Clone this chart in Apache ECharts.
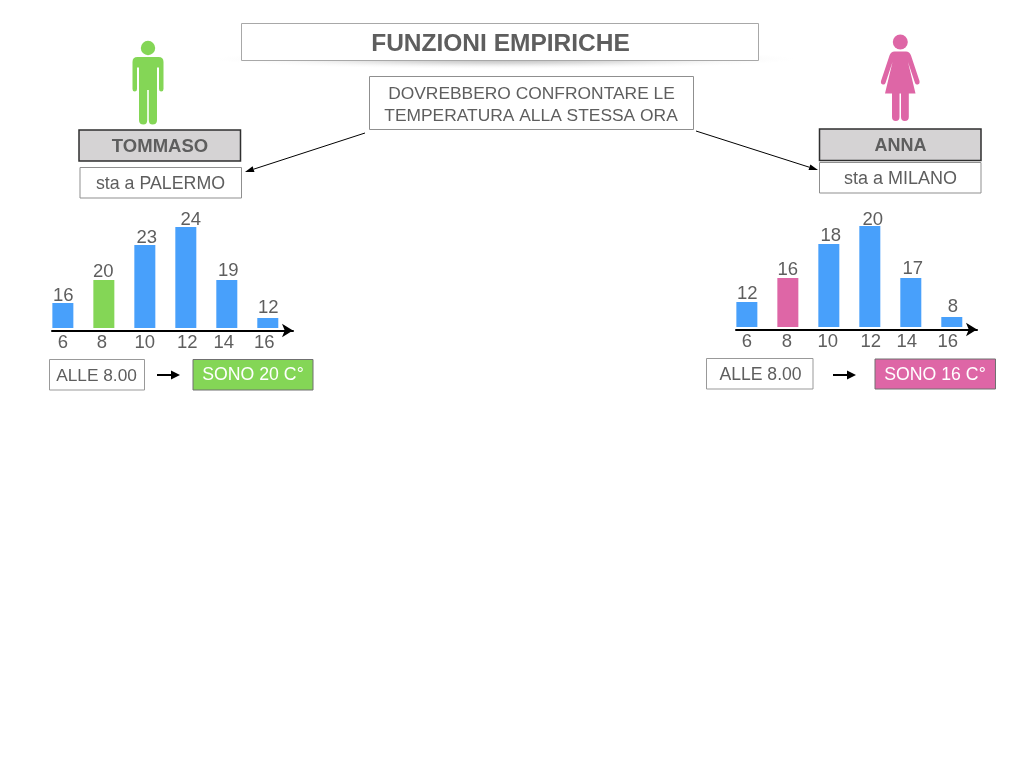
<!DOCTYPE html>
<html>
<head>
<meta charset="utf-8">
<style>html,body{margin:0;padding:0;background:#fff}#c{width:1024px;height:768px}</style>
<script src="https://cdn.jsdelivr.net/npm/echarts@6/dist/echarts.min.js"></script>
</head>
<body>
<div id="c"></div>
<script>
// Data
const hours = [6, 8, 10, 12, 14, 16];
const tommasoTemps = [16, 20, 23, 24, 19, 12];
const annaTemps = [12, 16, 18, 20, 17, 8];
// The drawn bars are not proportional to their printed temperatures: these are the drawn heights.
const tommasoBarHeights = [25, 48, 83, 101, 48, 10];
const annaBarHeights = [25, 49, 83, 101, 49, 10];

const TEXT = '#5e5e5e', BLUE = '#48a0fb', GREEN = '#84d656', PINK = '#de66a6';
const FONT = '"Liberation Sans", Arial, sans-serif';

const manPath = 'M137.5 57 H158.5 Q163.5 57 163.5 62 V89 Q163.5 91.5 161.2 91.5 Q159 91.5 159 89 V67.5 H157 V120 Q157 124.5 152.5 124.5 Q148.8 124.5 148.8 120 V90 H147.2 V120 Q147.2 124.5 143.5 124.5 Q139 124.5 139 120 V67.5 H137 V89 Q137 91.5 134.8 91.5 Q132.5 91.5 132.5 89 V62 Q132.5 57 137.5 57 Z';
const womanPath = 'M894.5 51.5 H906 Q909.5 51.5 911 55.5 L919.5 81 Q920 84 917.8 84.5 Q915.8 85 915 83 L908 62 L915.5 93.5 H908.8 V117 Q908.8 121 904.8 121 Q901 121 901 117 V93.5 H899.5 V117 Q899.5 121 895.8 121 Q892 121 892 117 V93.5 H885 L892.5 62 L885.5 83 Q884.7 85 882.7 84.5 Q880.5 84 881 81 L889.5 55.5 Q891 51.5 894.5 51.5 Z';
echarts.graphic.registerShape('manFigure', echarts.graphic.extendPath(manPath, {}));
echarts.graphic.registerShape('womanFigure', echarts.graphic.extendPath(womanPath, {}));

const chart = echarts.init(document.getElementById('c'), null, {renderer: 'canvas', width: 1024, height: 768});

// Hand placement of the printed numbers, as in the slide
const tommasoTickShift = [0, -2, 0, 1.5, -3, -3.5];
const annaTickShift = [0, -1, -1, 1, -4, -4];
const tommasoLabelShift = [[0.5, 2], [-0.5, 1], [2, 2], [5, 2], [1.5, 0], [0.5, -1]];
const annaLabelShift = [[0.5, 1], [0, 1], [2, 1], [3, 3], [2, 0], [1, -1]];
const NUM_SIZE = 18.5;

function tickRich(shifts) {
  const rich = {};
  shifts.forEach((s, i) => {
    rich['t' + i] = {
      fontSize: NUM_SIZE, fontFamily: FONT, color: TEXT,
      padding: s < 0 ? [0, -2 * s, 0, 0] : [0, 0, 0, 2 * s]
    };
  });
  return rich;
}

function panel(idx, left, bottomY, heights, temps, accent, tickShift, labelShift) {
  const grid = {left: left, width: 241, top: bottomY - 115, height: 115, containLabel: false};
  const xAxis = {
    type: 'value', gridIndex: idx, min: 5.47, max: 17.23, position: 'bottom',
    splitLine: {show: false}, axisTick: {show: false},
    axisLine: {onZero: false, lineStyle: {color: '#000', width: 2}, symbol: ['none', 'arrow'], symbolSize: [10, 11]},
    axisLabel: {
      customValues: hours, margin: 3,
      formatter: v => '{t' + hours.indexOf(v) + '|' + v + '}',
      rich: tickRich(tickShift)
    }
  };
  const yAxis = {type: 'value', gridIndex: idx, min: -2.5, max: 112.5, show: false};
  const series = {
    type: 'bar', xAxisIndex: idx, yAxisIndex: idx, barWidth: 21, silent: true,
    data: hours.map((h, i) => ({
      value: [h, heights[i]],
      itemStyle: {color: i === 1 ? accent : BLUE},
      label: {offset: labelShift[i]}
    })),
    label: {
      show: true, position: 'top', distance: 0,
      formatter: p => String(temps[p.dataIndex]),
      fontSize: NUM_SIZE, fontFamily: FONT, color: TEXT
    }
  };
  return {grid, xAxis, yAxis, series};
}

const pL = panel(0, 52, 330.5, tommasoBarHeights, tommasoTemps, GREEN, tommasoTickShift, tommasoLabelShift);
const pR = panel(1, 736, 329.5, annaBarHeights, annaTemps, PINK, annaTickShift, annaLabelShift);

function box(x0, y0, x1, y1, fill, stroke, lw) {
  return {type: 'rect', shape: {x: x0, y: y0, width: x1 - x0, height: y1 - y0},
    style: {fill: fill, stroke: stroke, lineWidth: lw || 1}, z: 2, silent: true};
}
function txt(cx, cy, s, size, color, bold) {
  return {type: 'text', x: cx, y: cy, z: 3, silent: true,
    style: {text: s, fill: color || TEXT, fontSize: size, fontFamily: FONT,
      fontWeight: bold ? 'bold' : 'normal', align: 'center', verticalAlign: 'middle'}};
}
function arrow(x0, y0, x1, y1, w, len, hw) {
  const d = Math.hypot(x1 - x0, y1 - y0), ux = (x1 - x0) / d, uy = (y1 - y0) / d;
  const bx = x1 - ux * len, by = y1 - uy * len;
  return [
    {type: 'line', shape: {x1: x0, y1: y0, x2: bx, y2: by}, style: {stroke: '#000', lineWidth: w}, z: 3, silent: true},
    {type: 'polygon', shape: {points: [[x1, y1], [bx - uy * hw, by + ux * hw], [bx + uy * hw, by - ux * hw]]},
      style: {fill: '#000'}, z: 3, silent: true}
  ];
}

const graphic = [
  {type: 'circle', x: 505, y: 59, scaleX: 29, scaleY: 1, shape: {cx: 0, cy: 0, r: 10}, silent: true, z: 1,
    style: {fill: {type: 'radial', x: 0.5, y: 0.5, r: 0.5,
      colorStops: [{offset: 0, color: 'rgba(110,110,110,0.5)'}, {offset: 0.45, color: 'rgba(130,130,130,0.28)'}, {offset: 0.8, color: 'rgba(170,170,170,0.07)'}, {offset: 1, color: 'rgba(200,200,200,0)'}]}}},
  box(241.5, 23.5, 758.5, 60.5, '#fff', '#a8a8a8'),
  txt(500.5, 44, 'FUNZIONI EMPIRICHE', 24.5, TEXT, true),
  box(369.5, 76.5, 693.5, 129.5, '#fff', '#8f8f8f'),
  txt(531.5, 94, 'DOVREBBERO CONFRONTARE LE', 17.4),
  txt(531, 116, 'TEMPERATURA ALLA STESSA ORA', 17.4),

  {type: 'circle', shape: {cx: 148, cy: 48, r: 7.2}, style: {fill: GREEN}, z: 2, silent: true},
  {type: 'manFigure', style: {fill: GREEN}, z: 2, silent: true},
  box(79, 130, 240.5, 161, '#d5d3d4', '#2f2f2f', 1.5),
  txt(160, 147, 'TOMMASO', 18.5, TEXT, true),
  box(80, 167.5, 241.5, 198, '#fff', '#8f8f8f', 1),
  txt(160.5, 184, 'sta a PALERMO', 17.8),

  {type: 'circle', shape: {cx: 900.3, cy: 42, r: 7.5}, style: {fill: PINK}, z: 2, silent: true},
  {type: 'womanFigure', style: {fill: PINK}, z: 2, silent: true},
  box(819.5, 129, 981, 160.5, '#d5d3d4', '#2f2f2f', 1.5),
  txt(900.5, 146, 'ANNA', 18, TEXT, true),
  box(819.5, 162.5, 981, 193, '#fff', '#8f8f8f', 1),
  txt(900.5, 179, 'sta a MILANO', 18),

  ...arrow(365, 133, 245, 172, 1, 9, 3),
  ...arrow(696, 131, 818, 170, 1, 9, 3),

  box(49.5, 359.5, 144.5, 390, '#fff', '#999'),
  txt(96.5, 376, 'ALLE 8.00', 17.3),
  ...arrow(157, 375, 180, 375, 2, 9, 4.5),
  box(193, 359.5, 313, 390, GREEN, '#707070'),
  txt(253, 375.5, 'SONO 20 C°', 17.7, '#fff'),

  box(706.5, 358.5, 813, 389, '#fff', '#999'),
  txt(760.5, 375, 'ALLE 8.00', 17.6),
  ...arrow(833, 375, 856, 375, 2, 9, 4.5),
  box(875, 359, 995.5, 389, PINK, '#707070'),
  txt(935, 375, 'SONO 16 C°', 17.7, '#fff')
];

chart.setOption({
  animation: false,
  backgroundColor: '#fff',
  grid: [pL.grid, pR.grid],
  xAxis: [pL.xAxis, pR.xAxis],
  yAxis: [pL.yAxis, pR.yAxis],
  series: [pL.series, pR.series],
  graphic: graphic
});
</script>
</body>
</html>
